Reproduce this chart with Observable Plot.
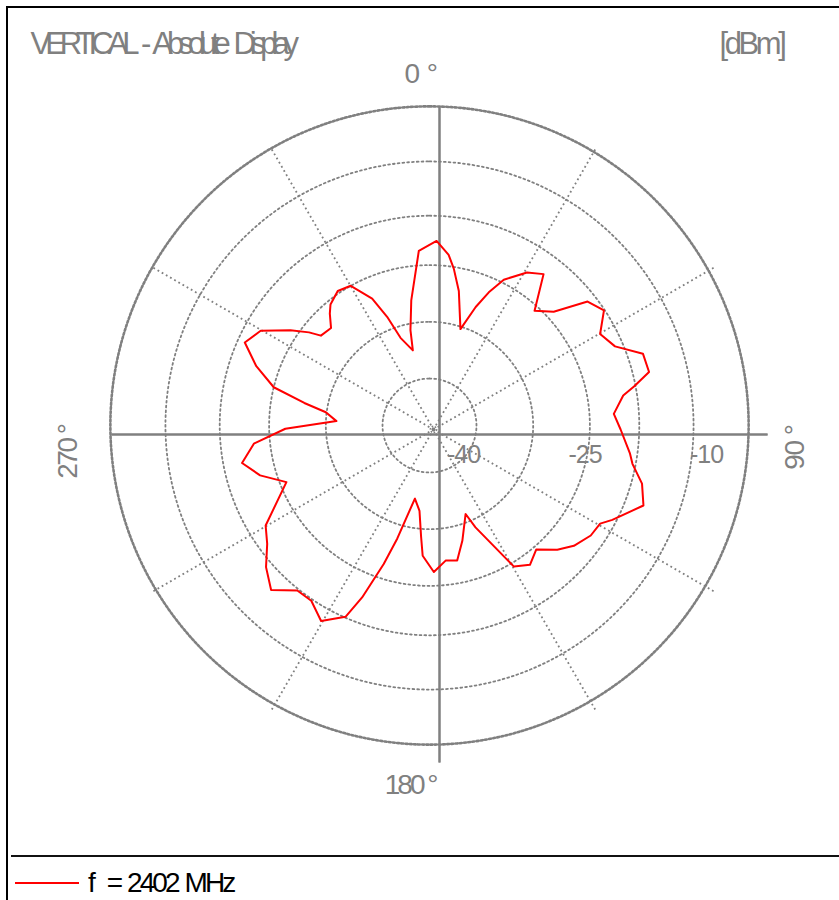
<!DOCTYPE html>
<html>
<head>
<meta charset="utf-8">
<script src="https://cdn.jsdelivr.net/npm/d3@7"></script>
<script src="https://cdn.jsdelivr.net/npm/@observablehq/plot@0.6"></script>
<style>
  body { margin: 0; background: #fff; font-family: "Liberation Sans", Arial, sans-serif; }
  #page { position: relative; width: 839px; height: 900px; overflow: hidden; background: #fff; }
  #chart { position: absolute; left: 0; top: 0; }
  .bl { position: absolute; left: 6px; top: 6px; width: 2px; height: 894px; background: #000; }
  .bt { position: absolute; left: 6px; top: 6px; width: 833px; height: 2px; background: #000; }
  .sep { position: absolute; left: 11px; top: 855px; width: 828px; height: 2px; background: #111; }
  .swatch { position: absolute; left: 15px; top: 882px; width: 64px; height: 2px; background: #ff0000; }
  .lab { position: absolute; left: 88px; top: 869px; font-size: 28px; line-height: 28px; white-space: pre; letter-spacing: -2.9px; word-spacing: 2px; color: #000; }
</style>
</head>
<body>
<div id="page">
  <div id="chart"></div>
  <div class="bl"></div>
  <div class="bt"></div>
  <div class="sep"></div>
  <div class="swatch"></div>
  <div class="lab" id="legendLabel"></div>
</div>
<script>
// ---- data (angle in degrees clockwise from 0°, level in dBm) ----
const angles = [2.2, 6.4, 8.8, 12.3, 17.8, 21.3, 24.0, 27.0, 32.5, 37.0,
  42.5, 47.5, 51.9, 56.6, 61.8, 66.9, 71.4, 76.3, 79.2, 81.2,
  86.4, 91.2, 98.0, 100.7, 105.3, 110.5, 117.3, 119.9, 124.3, 129.8,
  134.2, 139.3, 144.2, 149.1, 155.7, 157.8, 164.1, 168.4, 173.2, 178.3,
  183.0, 184.3, 186.7, 191.3, 195.9, 198.3, 201.4, 203.7, 209.0, 214.0,
  218.7, 223.9, 229.1, 233.9, 238.6, 248.4, 253.6, 258.7, 264.1, 268.7,
  272.7, 277.3, 280.2, 283.8, 288.9, 294.2, 299.3, 304.4, 307.7, 309.6,
  314.7, 318.3, 320.7, 325.7, 330.6, 335.7, 338.7, 341.7, 347.5, 348.7,
  351.7, 356.5];
const levels = [-21.4, -23.0, -24.6, -27.2, -31.7, -28.5, -26.2, -24.0, -21.8, -20.8,
  -25.0, -23.4, -19.4, -18.4, -20.3, -19.3, -16.4, -16.3, -18.5, -20.0,
  -21.4, -20.6, -19.2, -18.7, -17.0, -16.0, -18.8, -19.9, -20.1, -21.0,
  -22.2, -24.0, -23.0, -23.9, -30.4, -32.4, -29.4, -27.2, -27.4, -26.1,
  -28.1, -30.4, -33.6, -35.0, -29.7, -26.2, -21.4, -18.4, -16.6, -18.1,
  -18.1, -16.0, -17.5, -19.4, -20.5, -25.2, -22.4, -20.6, -22.4, -26.4,
  -32.7, -31.3, -28.5, -24.4, -21.6, -19.2, -20.3, -23.4, -25.4, -26.8,
  -27.1, -25.7, -24.9, -24.1, -24.4, -27.0, -29.8, -32.8, -34.7, -32.2,
  -28.6, -22.6];

const ringLevels = [-38.4, -31.4, -24.4, -18.3, -11.6];   // dotted rings
const outerLevel = -4.8;                                  // outer ring
const centerLevel = -44.2;                                // level at the pole
const spokeLevel = -4.2;                                  // end of dotted spokes
const axisLevel = -3.7;                                   // end of solid axes
const labelLevel = 0;                                     // angle labels
const spokeAngles = [30, 60, 120, 150, 210, 240, 300, 330];
const axisAngles = [0, 90, 180, 270];
const rangeTicks = [-40, -25, -10];
const angleTicks = [0, 90, 180, 270];
const angleTickLabels = ["0 °", "90 °", "180 °", "270 °"];
const titleText = "VERTICAL - Absolute Display";
const unitText = "[dBm]";
const seriesName = "f  = 2402 MHz";

// ---- polar helpers ----
const toXY = (a, v) => {
  const u = v - centerLevel, t = a * Math.PI / 180;
  return {x: u * Math.sin(t), y: u * Math.cos(t)};
};
const circle = (v, id) => d3.range(0, 360, 1).map(a => ({id, ...toXY(a, v)}));

const trace = angles.map((a, i) => toXY(a, levels[i]));
const rings = ringLevels.flatMap((v, i) => circle(v, i));
const outer = circle(outerLevel, "outer");

const W = 839, H = 855, cx = 429, cy = 425, k = 8.1;
const gray = "#808080";

const angleMark = (i, opts) => Plot.text([angleTicks[i]], {
  x: a => toXY(a, labelLevel).x, y: a => toXY(a, labelLevel).y,
  text: () => angleTickLabels[i], fill: gray, fontSize: 28, ...opts
});

const chart = Plot.plot({
  width: W, height: H, margin: 0,
  x: {domain: [-cx / k, (W - cx) / k], axis: null},
  y: {domain: [-(H - cy) / k, cy / k], axis: null},
  style: {fontFamily: "'Liberation Sans', Arial, sans-serif", background: "transparent", overflow: "visible"},
  marks: [
    Plot.line(rings, {x: "x", y: "y", z: "id", curve: "linear-closed", stroke: gray, strokeWidth: 1.8, strokeDasharray: "1.8 3"}),
    Plot.line(outer, {x: "x", y: "y", curve: "linear-closed", stroke: gray, strokeWidth: 2.6, strokeDasharray: "2 2.2"}),
    Plot.link(spokeAngles, {x1: () => 0, y1: () => 0, x2: a => toXY(a, spokeLevel).x, y2: a => toXY(a, spokeLevel).y,
      dx: 4, dy: 4, stroke: gray, strokeWidth: 1.8, strokeDasharray: "1.8 3"}),
    Plot.dot([0], {x: () => 0, y: () => 0, r: 3, stroke: gray, strokeWidth: 1.8, strokeDasharray: "1.5 1.5", dx: 4, dy: 4}),
    Plot.link(axisAngles, {x1: a => toXY(a, axisLevel).x, y1: a => toXY(a, axisLevel).y,
      x2: a => toXY(a + 180, axisLevel).x, y2: a => toXY(a + 180, axisLevel).y,
      dx: 10, dy: 9, stroke: gray, strokeWidth: 2}),
    Plot.line(trace, {x: "x", y: "y", curve: "linear-closed", stroke: "#ff0000", strokeWidth: 2}),
    Plot.text(rangeTicks, {x: v => toXY(90, v).x, y: v => toXY(90, v).y, text: v => String(v),
      dy: 29, fill: gray, fontSize: 25}),
    angleMark(0, {textAnchor: "end", dx: 8, dy: 7}),
    angleMark(2, {textAnchor: "end", dx: 6, dy: 2}),
    angleMark(1, {textAnchor: "end", rotate: -90, dx: 8, dy: 0}),
    angleMark(3, {textAnchor: "end", rotate: -90, dx: -3, dy: 0}),
    Plot.text([titleText], {frameAnchor: "top-left", text: d => d, textAnchor: "start", lineAnchor: "top",
      dx: 30, dy: 31, fill: gray, fontSize: 31}),
    Plot.text([unitText], {frameAnchor: "top-right", text: d => d, textAnchor: "end", lineAnchor: "top",
      dx: -56, dy: 31, fill: gray, fontSize: 31})
  ]
});

const spacing = {[titleText]: -6.0, [unitText]: -3.4, "180 °": -3, "270 °": -2.5, "90 °": -1.5, "0 °": -0.5, "-40": -1, "-25": -1, "-10": -1};
d3.select(chart).selectAll("text").each(function () {
  const s = spacing[this.textContent];
  if (s != null) this.style.letterSpacing = s + "px";
  if (this.textContent === titleText) this.style.wordSpacing = "6px";
});
document.getElementById("chart").appendChild(chart);
document.getElementById("legendLabel").textContent = seriesName;
</script>
</body>
</html>
